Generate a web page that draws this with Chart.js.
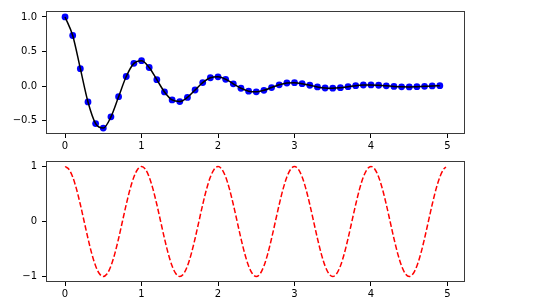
<!DOCTYPE html>
<html>
<head>
<meta charset="utf-8">
<script src="https://cdn.jsdelivr.net/npm/chart.js@4/dist/chart.umd.min.js"></script>
<style>
  body { margin: 0; background: #fff; }
  canvas { position: absolute; left: 0; }
  #top { top: 0; }
  #bottom { top: 150px; }
</style>
</head>
<body>
<canvas id="top" width="551" height="150"></canvas>
<canvas id="bottom" width="551" height="157"></canvas>
<script>
// sample times and damped oscillation values
const tSample = [0, 0.1, 0.2, 0.3, 0.4, 0.5, 0.6, 0.7, 0.8, 0.9,
  1.0, 1.1, 1.2, 1.3, 1.4, 1.5, 1.6, 1.7, 1.8, 1.9,
  2.0, 2.1, 2.2, 2.3, 2.4, 2.5, 2.6, 2.7, 2.8, 2.9,
  3.0, 3.1, 3.2, 3.3, 3.4, 3.5, 3.6, 3.7, 3.8, 3.9,
  4.0, 4.1, 4.2, 4.3, 4.4, 4.5, 4.6, 4.7, 4.8, 4.9];
const dampedValues = [1.0, 0.732, 0.253, -0.229, -0.542, -0.607, -0.444, -0.153, 0.139, 0.329,
  0.368, 0.269, 0.093, -0.084, -0.200, -0.223, -0.163, -0.056, 0.051, 0.121,
  0.135, 0.099, 0.034, -0.031, -0.073, -0.082, -0.060, -0.021, 0.019, 0.045,
  0.050, 0.036, 0.013, -0.011, -0.027, -0.030, -0.022, -0.008, 0.007, 0.016,
  0.018, 0.013, 0.005, -0.004, -0.010, -0.011, -0.008, -0.003, 0.003, 0.006];

// lower plot: cosine wave
const tWave = [0, 0.05, 0.1, 0.15, 0.2, 0.25, 0.3, 0.35, 0.4, 0.45,
  0.5, 0.55, 0.6, 0.65, 0.7, 0.75, 0.8, 0.85, 0.9, 0.95,
  1.0, 1.05, 1.1, 1.15, 1.2, 1.25, 1.3, 1.35, 1.4, 1.45,
  1.5, 1.55, 1.6, 1.65, 1.7, 1.75, 1.8, 1.85, 1.9, 1.95,
  2.0, 2.05, 2.1, 2.15, 2.2, 2.25, 2.3, 2.35, 2.4, 2.45,
  2.5, 2.55, 2.6, 2.65, 2.7, 2.75, 2.8, 2.85, 2.9, 2.95,
  3.0, 3.05, 3.1, 3.15, 3.2, 3.25, 3.3, 3.35, 3.4, 3.45,
  3.5, 3.55, 3.6, 3.65, 3.7, 3.75, 3.8, 3.85, 3.9, 3.95,
  4.0, 4.05, 4.1, 4.15, 4.2, 4.25, 4.3, 4.35, 4.4, 4.45,
  4.5, 4.55, 4.6, 4.65, 4.7, 4.75, 4.8, 4.85, 4.9, 4.95, 4.98];
const waveValues = [1, 0.951, 0.809, 0.588, 0.309, 0, -0.309, -0.588, -0.809, -0.951,
  -1, -0.951, -0.809, -0.588, -0.309, 0, 0.309, 0.588, 0.809, 0.951,
  1, 0.951, 0.809, 0.588, 0.309, 0, -0.309, -0.588, -0.809, -0.951,
  -1, -0.951, -0.809, -0.588, -0.309, 0, 0.309, 0.588, 0.809, 0.951,
  1, 0.951, 0.809, 0.588, 0.309, 0, -0.309, -0.588, -0.809, -0.951,
  -1, -0.951, -0.809, -0.588, -0.309, 0, 0.309, 0.588, 0.809, 0.951,
  1, 0.951, 0.809, 0.588, 0.309, 0, -0.309, -0.588, -0.809, -0.951,
  -1, -0.951, -0.809, -0.588, -0.309, 0, 0.309, 0.588, 0.809, 0.951,
  1, 0.951, 0.809, 0.588, 0.309, 0, -0.309, -0.588, -0.809, -0.951,
  -1, -0.951, -0.809, -0.588, -0.309, 0, 0.309, 0.588, 0.809, 0.951, 0.992];

const xTicks = [0, 1, 2, 3, 4, 5];
const yTicksTop = [-0.5, 0, 0.5, 1.0];
const yTicksBottom = [-1, 0, 1];

const pts = (xs, ys) => xs.map((x, i) => ({ x: x, y: ys[i] }));
const minus = s => s.replace('-', '\u2212');

const frame = {
  id: 'frame',
  afterDraw(chart) {
    const a = chart.chartArea, c = chart.ctx;
    c.save();
    c.strokeStyle = '#3a3a3a';
    c.lineWidth = 1;
    c.strokeRect(Math.round(a.left) + 0.5, Math.round(a.top) + 0.5,
      Math.round(a.right - a.left) - 1, Math.round(a.bottom - a.top) - 1);
    c.restore();
  }
};

const font = { family: 'DejaVu Sans', size: 10 };

function axes(yMin, yMax, yTicks, fmt, xH) {
  return {
    x: {
      type: 'linear', min: -0.249, max: 5.229,
      afterBuildTicks: s => { s.ticks = xTicks.map(v => ({ value: v })); },
      afterFit: s => { s.height = xH; },
      grid: { drawOnChartArea: false, tickLength: 4, color: '#000' },
      border: { display: false },
      ticks: { color: '#000', font: font, padding: 2, maxRotation: 0, callback: v => String(v) }
    },
    y: {
      min: yMin, max: yMax,
      afterBuildTicks: s => { s.ticks = yTicks.map(v => ({ value: v })); },
      afterFit: s => { s.width = 46; },
      grid: { drawOnChartArea: false, tickLength: 4, color: '#000' },
      border: { display: false },
      ticks: { color: '#000', font: font, padding: 5, callback: fmt }
    }
  };
}

new Chart(document.getElementById('top'), {
  type: 'line',
  data: {
    datasets: [{
      data: pts(tSample, dampedValues),
      borderColor: '#000', borderWidth: 1.5,
      pointRadius: 0, cubicInterpolationMode: 'monotone', order: 0
    }, {
      data: pts(tSample, dampedValues),
      showLine: false,
      pointRadius: 3.4, pointBackgroundColor: '#0000ff', pointBorderWidth: 0,
      order: 1
    }]
  },
  options: {
    responsive: false, animation: false, devicePixelRatio: 1,
    layout: { padding: { top: 10, right: 86, left: 0, bottom: 0 } },
    plugins: { legend: { display: false }, tooltip: { enabled: false } },
    scales: axes(-0.692, 1.086, yTicksTop, v => minus(v.toFixed(1)), 16)
  },
  plugins: [frame]
});

new Chart(document.getElementById('bottom'), {
  type: 'line',
  data: {
    datasets: [{
      data: pts(tWave, waveValues),
      borderColor: '#ff0000', borderWidth: 1.5, borderDash: [5.5, 2.4],
      pointRadius: 0, cubicInterpolationMode: 'monotone'
    }]
  },
  options: {
    responsive: false, animation: false, devicePixelRatio: 1,
    layout: { padding: { top: 9, right: 86, left: 0, bottom: 0 } },
    plugins: { legend: { display: false }, tooltip: { enabled: false } },
    scales: axes(-1.1, 1.1, yTicksBottom, v => minus(String(v)), 25)
  },
  plugins: [frame]
});
</script>
</body>
</html>
